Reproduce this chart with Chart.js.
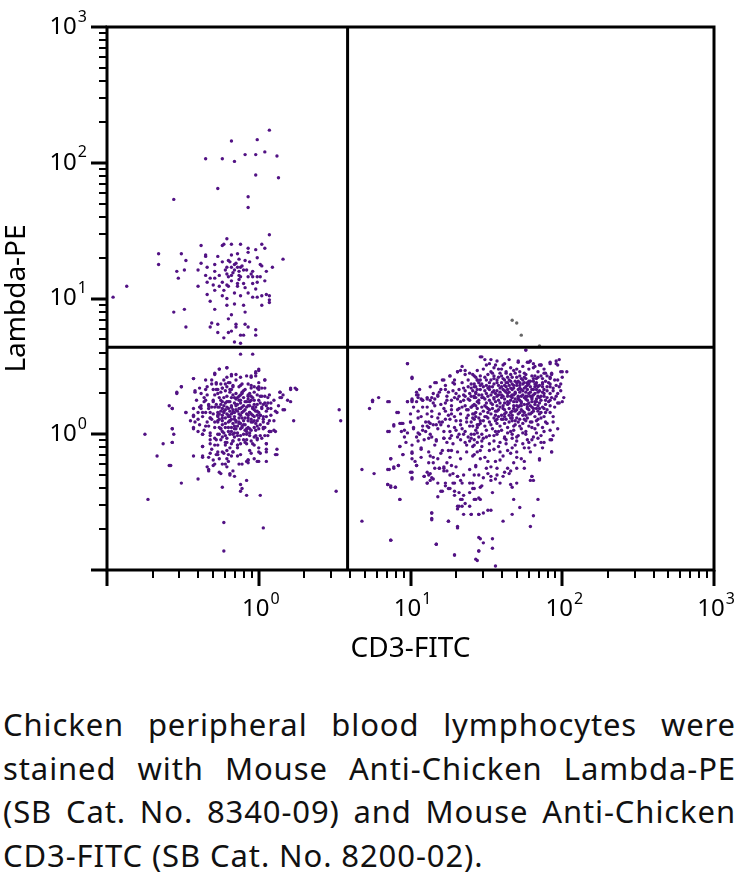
<!DOCTYPE html>
<html>
<head>
<meta charset="utf-8">
<script src="https://cdn.jsdelivr.net/npm/chart.js@4.4.1/dist/chart.umd.min.js"></script>
<style>
  html, body { margin: 0; padding: 0; background: #fff; }
  #wrap { position: relative; width: 743px; height: 883px; }
  #plot { position: absolute; left: 0; top: 0; width: 743px; height: 690px; }
  #caption { position: absolute; left: 3px; top: 703px; width: 733px;
    font-family: 'Noto Sans', sans-serif; font-size: 31px; line-height: 43.5px;
    letter-spacing: 0.9px; color: #111; }
  #caption div { text-align: justify; text-align-last: justify; white-space: nowrap; }
  #caption div.last { text-align: left; text-align-last: left; }
</style>
</head>
<body>
<div id="wrap">
  <div id="plot"><canvas id="grafico"></canvas></div>
  <div id="caption">
    <div>Chicken peripheral blood lymphocytes were</div>
    <div>stained with Mouse Anti-Chicken Lambda-PE</div>
    <div>(SB Cat. No. 8340-09) and Mouse Anti-Chicken</div>
    <div class="last">CD3-FITC (SB Cat. No. 8200-02).</div>
  </div>
</div>
<script>
// events as [log10 CD3-FITC, log10 Lambda-PE]
const lambdaPos = [
  [0.07,2.24],[-0.01,2.17],[-0.18,2.16],[-0.35,2.03],[-0.24,2.03],[-0.16,2.01],[-0.09,2.06],[-0.02,2.06],[0.04,2.08],[0.12,2.05],[-0.02,1.91],[0.13,1.89],[-0.27,1.81],[-0.56,1.73],[-0.07,1.75],[-0.07,1.67],
  [0.07,1.47],[-0.21,1.44],[-0.38,1.39],[-0.24,1.39],[-0.23,1.40],[-0.18,1.40],[-0.12,1.40],[-0.07,1.37],[-0.02,1.36],[0.02,1.40],[0.04,1.37],[-0.66,1.33],[-0.51,1.33],[-0.35,1.32],[-0.35,1.31],[-0.27,1.31],[-0.18,1.32],[-0.14,1.33],[-0.07,1.34],[-0.01,1.30],[0.16,1.29],[-0.48,1.28],[-0.38,1.26],[-0.29,1.25],[-0.24,1.27],[-0.20,1.28],[-0.16,1.25],[-0.13,1.29],[-0.12,1.23],[-0.09,1.28],[0.01,1.25],[0.02,1.24],[-0.66,1.25],[-0.54,1.20],[-0.49,1.21],[-0.40,1.21],[-0.34,1.23],[-0.29,1.20],[-0.21,1.23],[-0.18,1.23],[-0.16,1.21],[-0.14,1.23],[-0.13,1.20],[-0.10,1.21],[-0.05,1.18],[-0.04,1.20],[-0.01,1.16],[0.05,1.20],[0.09,1.23],
  [-0.53,1.15],[-0.35,1.17],[-0.32,1.15],[-0.29,1.15],[-0.26,1.17],[-0.21,1.18],[-0.20,1.16],[-0.18,1.17],[-0.13,1.17],[-0.12,1.16],[-0.07,1.16],[-0.04,1.16],[0.01,1.16],[0.04,1.13],[-0.34,1.12],[-0.30,1.10],[-0.24,1.12],[-0.21,1.10],[-0.18,1.13],[-0.14,1.11],[-0.10,1.11],[-0.04,1.11],[-0.01,1.12],[-0.40,1.09],[-0.26,1.09],[-0.20,1.09],[-0.14,1.09],[-0.09,1.08],[-0.02,1.07],[-0.87,1.09],[-0.29,1.06],[-0.23,1.06],[-0.16,1.04],[-0.12,1.02],[-0.07,1.04],[0.02,1.02],[0.05,1.03],[0.07,1.02],[-0.96,1.01],[-0.34,1.03],[-0.24,1.02],[-0.21,1.00],[-0.04,1.01],[-0.01,1.01],[0.07,0.99],[0.07,0.97],
  [-0.32,0.98],[-0.21,0.95],[-0.16,0.96],[-0.10,0.95],[0.02,0.95],[-0.56,0.90],[-0.49,0.92],[-0.29,0.92],[-0.09,0.90],[-0.18,0.88],[-0.20,0.85],[-0.31,0.82],[-0.48,0.79],[-0.32,0.79],[-0.27,0.81],[-0.15,0.81],[-0.15,0.79],[-0.09,0.81],[-0.07,0.79],[-0.02,0.77],[-0.18,0.76],[-0.20,0.75],[-0.27,0.75],[-0.12,0.73],[-0.10,0.73],[-0.02,0.73],[-0.23,0.71],[-0.16,0.68],[-0.12,0.67],
  [-0.15,1.26],[-0.11,1.24],[-0.17,1.19],[-0.08,1.21],[-0.19,1.27],[-0.13,1.14],[-0.06,1.27],[-0.22,1.21]
];

const doubleNeg = [
  [-0.12,0.59],[-0.04,0.59],[-0.21,0.49],[-0.26,0.48],[0.00,0.48],[-0.02,0.46],[-0.29,0.44],[-0.18,0.44],[-0.21,0.42],[-0.08,0.43],[-0.05,0.43],[-0.02,0.43],[-0.43,0.41],[-0.31,0.40],[0.04,0.40],[-0.15,0.40],[-0.19,0.38],[-0.51,0.35],[-0.28,0.37],[-0.25,0.37],[-0.34,0.35],[-0.24,0.34],[-0.21,0.35],[-0.17,0.35],[-0.12,0.36],[-0.07,0.37],[-0.03,0.35],[-0.01,0.34],[0.04,0.34],[-0.39,0.34],[-0.42,0.31],[-0.54,0.30],[-0.30,0.33],[-0.28,0.33],[-0.22,0.32],[-0.18,0.33],[-0.10,0.32],[-0.05,0.34],[0.00,0.33],[0.14,0.31],[0.21,0.34],[0.24,0.34],[0.16,0.29],[0.14,0.27],[0.21,0.24],
  [-0.34,0.29],[-0.29,0.29],[-0.36,0.27],[-0.26,0.27],[-0.16,0.27],[-0.14,0.27],[-0.07,0.28],[-0.05,0.28],[-0.01,0.29],[0.04,0.28],[0.06,0.27],[0.10,0.25],[-0.41,0.25],[-0.30,0.24],[-0.24,0.24],[-0.21,0.24],[-0.12,0.25],[-0.09,0.24],[-0.06,0.24],[-0.03,0.22],[0.03,0.22],[0.06,0.23],[-0.59,0.21],[-0.57,0.19],[-0.43,0.19],[-0.39,0.20],[-0.38,0.19],[-0.33,0.19],[-0.31,0.20],[-0.26,0.20],[-0.18,0.20],[-0.15,0.21],[-0.13,0.19],[-0.08,0.20],[-0.04,0.20],[0.02,0.20],[0.08,0.19],[0.16,0.18],
  [-0.48,0.16],[-0.40,0.16],[-0.35,0.16],[-0.27,0.16],[-0.23,0.17],[-0.19,0.17],[-0.17,0.18],[-0.10,0.17],[-0.06,0.16],[-0.01,0.17],[0.05,0.17],[0.11,0.17],[-0.43,0.13],[-0.37,0.13],[-0.32,0.12],[-0.27,0.13],[-0.24,0.14],[-0.20,0.13],[-0.16,0.13],[-0.12,0.14],[-0.07,0.14],[-0.03,0.13],[0.01,0.14],[0.05,0.13],[-0.42,0.09],[-0.39,0.07],[-0.34,0.09],[-0.27,0.09],[-0.24,0.10],[-0.19,0.10],[-0.15,0.10],[-0.13,0.08],[-0.10,0.10],[-0.05,0.09],[-0.01,0.10],[0.03,0.09],[0.23,0.10],
  [-0.43,0.04],[-0.36,0.03],[-0.25,0.04],[-0.22,0.05],[-0.18,0.05],[-0.15,0.04],[-0.11,0.06],[-0.08,0.04],[-0.03,0.05],[0.00,0.04],[0.04,0.05],[0.07,0.02],[0.11,0.02],[-0.75,0.00],[-0.57,0.04],[-0.56,0.00],[-0.37,0.00],[-0.32,0.01],[-0.26,0.00],[-0.23,0.01],[-0.19,0.00],[-0.16,0.01],[-0.14,-0.01],[-0.10,0.00],[-0.06,-0.01],[-0.02,-0.01],[0.04,-0.01],[-0.32,-0.04],[-0.28,-0.04],[-0.25,-0.04],[-0.21,-0.03],[-0.17,-0.05],[-0.13,-0.04],[-0.08,-0.04],[-0.05,-0.05],[-0.01,-0.04],[0.05,-0.07],
  [-0.63,-0.07],[-0.57,-0.06],[-0.37,-0.09],[-0.29,-0.08],[-0.22,-0.08],[-0.19,-0.10],[-0.14,-0.08],[-0.12,-0.07],[-0.06,-0.12],[0.00,-0.13],[0.05,-0.11],[-0.27,-0.13],[-0.24,-0.13],[-0.21,-0.12],[-0.17,-0.13],[-0.67,-0.16],[-0.37,-0.16],[-0.33,-0.17],[-0.27,-0.15],[-0.21,-0.18],[-0.20,-0.15],[-0.14,-0.16],[-0.07,-0.19],[-0.08,-0.20],[-0.01,-0.20],[0.05,-0.20],[0.12,-0.15],[-0.59,-0.23],[-0.33,-0.26],[-0.33,-0.27],[-0.30,-0.19],[-0.29,-0.22],[-0.22,-0.22],[-0.21,-0.24],[-0.26,-0.28],[-0.19,-0.30],[-0.16,-0.31],[-0.40,-0.33],[-0.51,-0.36],[-0.08,-0.34],[-0.12,-0.37],[-0.24,-0.39],[-0.11,-0.40],[-0.12,-0.42],[-0.08,-0.45],[0.01,-0.45],[-0.73,-0.48],[-0.23,-0.65],[0.03,-0.69],[-0.23,-0.86],
  [-0.21,0.49],[-0.26,0.48],[-0.29,0.45],[-0.18,0.43],[0.00,0.47],[-0.02,0.45],[-0.12,0.42],[-0.05,0.42],[-0.43,0.41],[0.04,0.40],[-0.23,0.40],[-0.28,0.38],[-0.31,0.37],[-0.22,0.37],[-0.17,0.36],[-0.11,0.37],[-0.05,0.36],[0.00,0.35],[0.02,0.34],[-0.51,0.35],[-0.54,0.31],[-0.42,0.32],[-0.35,0.33],[-0.38,0.30],[-0.27,0.33],[-0.24,0.34],[-0.19,0.33],[-0.15,0.30],[-0.11,0.30],[-0.07,0.29],[-0.04,0.27],[0.01,0.28],[0.07,0.29],[0.14,0.31],[0.21,0.33],[0.25,0.33],[0.15,0.27],
  [-0.35,0.25],[-0.30,0.25],[-0.25,0.25],[-0.20,0.24],[-0.13,0.25],[-0.06,0.24],[0.00,0.25],[0.04,0.23],[0.08,0.23],[0.13,0.21],[0.19,0.25],[-0.38,0.21],[-0.33,0.21],[-0.29,0.20],[-0.24,0.19],[-0.18,0.20],[-0.15,0.22],[-0.12,0.19],[-0.07,0.21],[-0.02,0.20],[0.02,0.19],[0.06,0.19],[0.17,0.18],[-0.48,0.16],[-0.43,0.14],[-0.37,0.16],[-0.32,0.16],[-0.26,0.15],[-0.21,0.15],[-0.17,0.16],[-0.11,0.16],[-0.05,0.15],[0.01,0.14],[0.08,0.14],[0.12,0.16],[-0.57,0.19],
  [-0.45,0.10],[-0.40,0.11],[-0.32,0.12],[-0.27,0.10],[-0.22,0.12],[-0.18,0.11],[-0.13,0.09],[-0.07,0.12],[-0.03,0.10],[0.03,0.11],[0.07,0.10],[-0.43,0.05],[-0.35,0.06],[-0.29,0.05],[-0.25,0.04],[-0.20,0.05],[-0.16,0.04],[-0.11,0.05],[-0.06,0.04],[-0.01,0.06],[0.03,0.04],[0.10,0.03],[-0.57,0.04],[-0.37,0.00],[-0.32,-0.01],[-0.27,0.00],[-0.22,-0.01],[-0.17,0.00],[-0.12,-0.01],[-0.08,0.00],[-0.03,-0.02],[0.01,-0.01],[0.06,-0.01],[0.07,0.02],
  [-0.57,-0.06],[-0.37,-0.09],[-0.32,-0.07],[-0.27,-0.08],[-0.22,-0.06],[-0.18,-0.07],[-0.14,-0.08],[-0.09,-0.06],[-0.04,-0.07],[0.00,-0.10],[0.05,-0.07],[0.12,-0.11],[-0.43,-0.16],[-0.37,-0.17],[-0.32,-0.14],[-0.28,-0.15],[-0.23,-0.14],[-0.17,-0.13],[-0.12,-0.15],[-0.07,-0.19],[-0.07,-0.21],[-0.03,-0.18],[0.01,-0.14],[0.05,-0.13],[0.11,-0.15],[-0.34,-0.24],[-0.30,-0.23],[-0.24,-0.22],[-0.20,-0.20],[-0.17,-0.27],[-0.13,-0.22],[-0.25,-0.29],[-0.19,-0.29],[0.00,-0.20],[-0.58,-0.23],
  [-0.28,0.22],[-0.25,0.17],[-0.23,0.27],[-0.22,0.08],[-0.20,0.14],[-0.19,0.31],[-0.18,0.02],[-0.16,0.23],[-0.15,0.09],[-0.14,0.17],[-0.13,0.28],[-0.12,0.04],[-0.11,0.12],[-0.10,0.21],[-0.09,0.07],[-0.08,0.15],[-0.07,0.26],[-0.06,0.01],[-0.05,0.11],[-0.04,0.19],[-0.03,0.31],[-0.02,0.08],[-0.01,0.14],[0.01,0.23],[0.02,-0.03],[-0.26,0.05],[-0.24,-0.02],[-0.21,0.20],[-0.17,-0.05],[-0.14,-0.10],[-0.10,-0.04],[-0.09,0.33],[-0.27,0.30],[-0.31,0.11],[-0.33,0.22],[-0.20,0.38],[-0.13,0.35],[-0.03,-0.08],[0.03,0.13],[0.06,0.08],[-0.16,0.06],[-0.19,0.10],[-0.08,0.02],[-0.24,0.12],
  [-0.36,0.24],[-0.33,0.06],[-0.30,0.15],[-0.29,-0.03],[-0.27,0.20],[-0.26,0.11],[-0.25,0.31],[-0.24,0.02],[-0.23,0.16],[-0.22,0.23],[-0.21,-0.06],[-0.20,0.09],[-0.19,0.24],[-0.18,0.15],[-0.17,0.29],[-0.16,-0.02],[-0.15,0.18],[-0.14,0.06],[-0.13,0.12],[-0.12,0.23],[-0.11,0.31],[-0.10,0.07],[-0.09,0.18],[-0.08,-0.07],[-0.07,0.10],[-0.06,0.21],[-0.05,0.03],[-0.04,0.14],[-0.03,0.25],[-0.02,0.17],[-0.01,-0.03],[0.00,0.12],[0.02,0.28],[0.03,0.05],[0.05,0.21],[0.08,0.02],[-0.31,-0.11],[-0.26,-0.18],[-0.18,-0.16],[-0.11,-0.22],[-0.05,-0.14],[-0.35,0.40],[-0.15,0.44],[0.00,0.38],[-0.40,0.02],[0.10,0.10],
  [-0.27,0.14],[-0.25,0.22],[-0.24,0.07],[-0.22,0.18],[-0.21,0.28],[-0.20,0.02],[-0.19,0.13],[-0.18,0.21],[-0.17,0.08],[-0.16,0.16],[-0.15,0.26],[-0.14,0.01],[-0.13,0.15],[-0.12,0.08],[-0.11,0.20],[-0.10,0.27],[-0.09,0.12],[-0.08,0.24],[-0.07,0.05],[-0.06,0.16],[-0.05,0.25],[-0.04,0.09],[-0.03,0.18],[-0.02,0.03],[-0.01,0.22],[0.00,0.16],[0.01,0.07],[-0.29,0.09],[-0.23,0.21],[-0.18,0.27],[-0.12,0.29],[-0.06,0.30],[-0.20,0.19],[-0.14,0.22],[-0.09,0.03],[-0.16,0.11]
];

const cd3Pos = [
  [0.53,0.18],[0.54,0.10],[0.51,-0.42],
  [0.98,0.52],[1.01,0.41],[0.75,0.25],[0.75,0.24],[0.79,0.27],[0.73,0.19],[0.86,0.24],[0.92,0.16],[0.98,0.24],[1.01,0.24],[1.01,0.26],[1.04,0.31],[1.05,0.29],[1.07,0.26],[1.04,0.24],[1.08,0.25],[1.11,0.27],[1.13,0.25],[1.16,0.26],[1.18,0.28],[1.17,0.38],[1.22,0.40],[1.23,0.33],[1.26,0.43],[1.29,0.40],[1.31,0.46],[1.33,0.47],
  [0.89,0.07],[0.93,0.08],[0.95,0.08],[1.00,0.09],[0.86,0.02],[0.94,0.02],[0.98,0.01],[1.02,0.05],[1.04,-0.02],[1.06,0.00],[1.08,0.03],[1.11,0.06],[1.13,0.08],[1.17,0.07],[1.19,0.09],[0.93,-0.09],[0.97,-0.06],[1.01,-0.08],[1.05,-0.05],[1.07,-0.11],[1.12,-0.03],[1.14,-0.02],[1.17,-0.04],[1.22,-0.03],
  [0.87,-0.18],[0.95,-0.15],[1.01,-0.14],[1.07,-0.17],[1.13,-0.16],[1.15,-0.21],[1.18,-0.18],[1.24,-0.21],[1.26,-0.17],[0.68,-0.26],[0.76,-0.29],[0.86,-0.26],[0.89,-0.25],[0.92,-0.23],[1.00,-0.28],[1.01,-0.32],[1.04,-0.23],[1.09,-0.31],[1.11,-0.28],[1.12,-0.30],[1.14,-0.32],[1.19,-0.25],[1.22,-0.25],[1.24,-0.27],[1.27,-0.23],[1.30,-0.24],
  [0.85,-0.37],[0.87,-0.39],[0.90,-0.39],[0.93,-0.48],[1.11,-0.36],[1.13,-0.34],[1.20,-0.42],[1.23,-0.38],[1.25,-0.40],[1.28,-0.36],[1.31,-0.31],[1.33,-0.34],[1.29,-0.45],[1.32,-0.43],[1.34,-0.48],[1.31,-0.53],[1.36,-0.51],[1.14,-0.58],[1.14,-0.62],[1.25,-0.64],[1.31,-0.69],[0.68,-0.64],[0.87,-0.78],[1.17,-0.81],[1.29,-0.89],
  [0.98,0.52],[1.01,0.42],[1.16,0.38],[1.21,0.40],[1.26,0.43],[1.31,0.46],[1.34,0.50],[1.36,0.47],[1.39,0.45],[1.42,0.43],[1.44,0.40],[1.23,0.36],[1.29,0.37],[1.34,0.38],[1.40,0.37],[1.42,0.35],[0.85,0.24],[0.91,0.16],[0.98,0.24],[1.01,0.25],[1.04,0.29],[1.05,0.27],[1.08,0.25],[1.11,0.26],[1.14,0.27],[1.18,0.29],[1.19,0.31],[1.25,0.31],[1.28,0.32],[1.32,0.33],[1.36,0.32],[1.39,0.30],[1.43,0.31],
  [1.02,0.20],[1.05,0.17],[1.11,0.20],[1.15,0.23],[1.20,0.22],[1.23,0.23],[1.27,0.25],[1.31,0.26],[1.35,0.25],[1.38,0.26],[1.42,0.27],[1.45,0.25],[1.07,0.13],[1.11,0.15],[1.14,0.17],[1.19,0.15],[1.23,0.17],[1.27,0.18],[1.32,0.19],[1.36,0.21],[1.40,0.20],[1.43,0.21],[0.89,0.06],[0.94,0.08],[1.00,0.09],[0.85,0.02],[0.96,0.03],[1.02,0.04],[1.08,0.06],[1.12,0.09],[1.15,0.07],[1.21,0.09],[1.26,0.11],[1.29,0.13],[1.33,0.15],[1.38,0.14],[1.42,0.15],[1.45,0.12],
  [1.05,0.01],[1.10,0.02],[1.13,0.00],[1.18,0.04],[1.22,0.02],[1.25,0.06],[1.29,0.05],[1.33,0.07],[1.37,0.09],[1.41,0.06],[1.44,0.07],[1.27,-0.01],[1.32,0.00],[1.36,0.02],[1.40,0.00],[1.44,0.01],[1.26,-0.03],[1.38,-0.02],
  [1.46,0.57],[1.49,0.55],[1.52,0.52],[1.56,0.51],[1.61,0.51],[1.66,0.49],[1.71,0.53],[1.76,0.62],[1.78,0.53],[1.81,0.52],[1.86,0.51],[1.92,0.53],[1.96,0.54],[1.97,0.51],[2.00,0.46],[2.03,0.46],[1.44,0.47],[1.48,0.48],[1.53,0.46],[1.58,0.48],[1.63,0.46],[1.68,0.47],[1.72,0.46],[1.78,0.48],[1.84,0.46],[1.88,0.45],[1.93,0.45],
  [1.43,0.42],[1.46,0.43],[1.50,0.40],[1.55,0.41],[1.60,0.43],[1.65,0.40],[1.70,0.42],[1.75,0.42],[1.80,0.43],[1.84,0.42],[1.90,0.43],[1.95,0.40],[2.00,0.42],[1.42,0.37],[1.47,0.37],[1.52,0.35],[1.57,0.38],[1.62,0.36],[1.67,0.37],[1.72,0.36],[1.77,0.38],[1.82,0.37],[1.87,0.38],[1.92,0.35],[1.96,0.36],
  [1.41,0.32],[1.46,0.33],[1.50,0.30],[1.55,0.32],[1.59,0.31],[1.64,0.33],[1.69,0.30],[1.74,0.32],[1.79,0.31],[1.83,0.33],[1.87,0.31],[1.92,0.30],[1.99,0.32],[1.43,0.27],[1.47,0.27],[1.52,0.25],[1.57,0.28],[1.62,0.26],[1.67,0.27],[1.71,0.26],[1.76,0.28],[1.80,0.26],[1.85,0.27],[1.89,0.25],[1.95,0.26],[2.00,0.24],
  [1.41,0.21],[1.45,0.23],[1.50,0.20],[1.54,0.22],[1.59,0.20],[1.64,0.22],[1.68,0.21],[1.73,0.23],[1.77,0.20],[1.82,0.22],[1.87,0.20],[1.92,0.21],[1.97,0.23],[1.43,0.16],[1.48,0.17],[1.53,0.15],[1.57,0.17],[1.62,0.15],[1.67,0.17],[1.72,0.16],[1.76,0.14],[1.81,0.17],[1.85,0.15],[1.89,0.16],[1.94,0.13],
  [1.42,0.11],[1.46,0.10],[1.51,0.12],[1.56,0.10],[1.61,0.11],[1.66,0.12],[1.71,0.09],[1.75,0.11],[1.80,0.09],[1.84,0.11],[1.89,0.09],[1.44,0.05],[1.49,0.06],[1.54,0.04],[1.59,0.06],[1.64,0.05],[1.68,0.06],[1.73,0.04],[1.78,0.06],[1.82,0.04],[1.87,0.05],[1.92,0.03],[1.97,0.04],
  [1.42,0.00],[1.47,0.00],[1.52,-0.01],[1.57,0.00],[1.62,-0.02],[1.67,0.00],[1.71,-0.01],[1.76,0.00],[1.81,-0.02],[1.86,-0.01],[1.94,-0.01],
  [0.93,-0.09],[1.01,-0.13],[0.95,-0.15],[0.87,-0.18],[1.01,-0.18],[1.07,-0.10],[1.12,-0.13],[1.15,-0.17],[1.21,-0.12],[1.24,-0.06],[0.85,-0.26],[0.89,-0.24],[0.92,-0.23],[1.01,-0.28],[1.04,-0.23],[1.01,-0.33],[1.12,-0.21],[1.16,-0.25],[1.19,-0.25],[1.22,-0.24],[1.09,-0.31],[1.13,-0.29],[1.15,-0.33],[1.22,-0.27],[1.26,-0.30],[1.28,-0.29],[1.31,-0.31],[1.35,-0.30],[1.39,-0.26],[1.43,-0.24],
  [0.85,-0.37],[0.87,-0.38],[0.90,-0.39],[1.11,-0.36],[1.23,-0.36],[1.26,-0.40],[1.29,-0.36],[1.34,-0.36],[1.39,-0.36],[1.41,-0.40],[1.46,-0.39],[0.93,-0.48],[1.18,-0.46],[1.21,-0.42],[1.29,-0.42],[1.33,-0.48],[1.35,-0.45],[1.39,-0.43],[1.43,-0.48],[1.46,-0.48],[1.32,-0.53],[1.34,-0.53],[1.39,-0.53],[1.31,-0.55],[1.14,-0.58],[1.14,-0.63],[1.25,-0.64],[1.35,-0.59],[1.40,-0.59],[1.45,-0.59],[1.31,-0.68],[0.87,-0.78],[1.17,-0.81],[1.45,-0.76],[1.29,-0.89],[1.45,-0.86],[1.44,-0.93],
  [1.22,-0.03],[1.28,-0.07],[1.33,-0.04],[1.37,-0.08],[1.40,-0.03],[1.44,-0.06],[1.25,-0.12],[1.31,-0.13],[1.37,-0.13],[1.42,-0.15],[1.46,-0.12],[1.17,-0.05],
  [1.42,-0.04],[1.45,-0.02],[1.50,-0.02],[1.55,-0.05],[1.59,-0.06],[1.62,-0.03],[1.67,-0.03],[1.70,-0.05],[1.77,-0.04],[1.80,-0.04],[1.82,-0.08],[1.88,-0.06],[1.93,-0.04],[1.42,-0.08],[1.47,-0.09],[1.52,-0.12],[1.55,-0.11],[1.59,-0.13],[1.64,-0.12],[1.67,-0.10],[1.70,-0.13],[1.75,-0.10],[1.78,-0.10],[1.87,-0.10],[1.93,-0.13],[1.44,-0.13],
  [1.41,-0.16],[1.46,-0.18],[1.51,-0.20],[1.56,-0.20],[1.61,-0.16],[1.66,-0.14],[1.68,-0.21],[1.73,-0.18],[1.75,-0.20],[1.85,-0.18],[1.43,-0.23],[1.50,-0.25],[1.53,-0.24],[1.57,-0.25],[1.64,-0.25],[1.66,-0.27],[1.70,-0.25],[1.75,-0.25],[1.42,-0.30],[1.45,-0.30],[1.48,-0.32],[1.53,-0.31],[1.57,-0.30],[1.61,-0.31],[1.65,-0.29],[1.80,-0.31],
  [1.41,-0.36],[1.47,-0.38],[1.53,-0.34],[1.56,-0.33],[1.59,-0.36],[1.66,-0.37],[1.67,-0.39],[1.70,-0.36],[1.79,-0.34],[1.42,-0.40],[1.54,-0.43],[1.42,-0.48],[1.45,-0.47],[1.68,-0.48],[1.72,-0.54],[1.84,-0.48],[1.40,-0.59],[1.45,-0.59],[1.48,-0.58],[1.51,-0.56],[1.53,-0.56],[1.61,-0.64],[1.67,-0.59],[1.81,-0.60],[1.79,-0.68],[1.46,-0.77],[1.48,-0.80],[1.54,-0.77],[1.45,-0.86],[1.54,-0.84],[1.43,-0.92],[1.56,-0.97],
  [1.98,0.55],[1.96,0.52],[1.99,0.46],[1.97,0.40],[1.99,0.37],[2.01,0.27],[1.98,0.23],[1.92,0.25],[1.94,0.32],[1.90,0.35],[1.92,0.42],[1.89,0.45],[1.92,0.52],[1.86,0.51],[1.94,0.09],[1.88,0.13],[1.92,-0.04],[1.86,-0.06],[1.93,-0.13],[1.85,-0.19],[1.80,-0.31],[1.81,-0.34],[1.47,0.57],[1.50,0.51],[1.53,0.55],[1.57,0.54],[1.62,0.52],[1.71,0.54],[1.77,0.53],[1.79,0.54],[1.81,0.49],[1.85,0.51],[1.76,0.62],
  [1.44,0.40],[1.48,0.35],[1.51,0.44],[1.53,0.29],[1.55,0.37],[1.56,0.24],[1.58,0.42],[1.59,0.34],[1.60,0.27],[1.61,0.19],[1.62,0.40],[1.63,0.31],[1.64,0.24],[1.65,0.14],[1.66,0.44],[1.66,0.34],[1.67,0.29],[1.68,0.19],[1.69,0.39],[1.70,0.24],[1.70,0.12],[1.71,0.33],[1.72,0.43],[1.73,0.28],[1.73,0.18],[1.74,0.37],[1.75,0.22],[1.76,0.31],[1.76,0.41],[1.77,0.25],[1.78,0.15],[1.79,0.35],[1.79,0.28],[1.80,0.20],[1.81,0.39],[1.82,0.30],[1.83,0.24],[1.84,0.35],[1.85,0.19],[1.86,0.28],[1.87,0.41],[1.88,0.33],[1.89,0.22],[1.91,0.38],[1.93,0.27],
  [1.50,0.23],[1.52,0.18],[1.54,0.31],[1.57,0.21],[1.58,0.13],[1.60,0.38],[1.62,0.08],[1.63,0.45],[1.65,0.36],[1.67,0.10],[1.69,0.26],[1.71,0.20],[1.72,0.38],[1.74,0.14],[1.75,0.45],[1.77,0.33],[1.78,0.39],[1.80,0.24],[1.82,0.13],[1.83,0.41],[1.85,0.32],[1.47,0.20],[1.49,0.13],[1.45,0.29],[1.42,0.22],[1.46,0.08],[1.53,0.07],[1.56,0.02],[1.60,0.03],[1.64,0.01],[1.68,0.03],[1.72,0.06],[1.76,0.02],[1.80,0.05],[1.84,0.07],[1.90,0.18],[1.95,0.20],[1.97,0.30],[1.93,0.44],[1.88,0.48],[1.70,0.48],[1.60,0.48],[1.55,0.49],[1.65,0.55],[1.74,0.50],[1.82,0.50],
  [1.20,0.33],[1.24,0.28],[1.27,0.21],[1.30,0.30],[1.33,0.24],[1.35,0.34],[1.37,0.18],[1.38,0.40],[1.40,0.28],[1.41,0.12],[1.43,0.35],[1.25,0.14],[1.30,0.10],[1.34,0.04],[1.39,0.06],[1.22,0.19],[1.28,0.38],[1.36,0.44],[1.18,0.12],[1.15,0.30],[1.10,0.09],[1.26,0.02],[1.31,-0.02],[1.36,-0.06],[1.41,-0.09],[1.47,-0.05],[1.52,-0.07],[1.58,-0.09],[1.63,-0.07],[1.69,-0.08],[1.74,-0.07],[1.79,-0.13],[1.84,-0.03],[1.49,-0.17],[1.59,-0.19],[1.70,-0.17],[1.62,-0.28],[1.51,-0.29],
  [1.41,0.44],[1.45,0.38],[1.49,0.42],[1.52,0.38],[1.54,0.45],[1.57,0.40],[1.59,0.45],[1.61,0.41],[1.64,0.38],[1.67,0.42],[1.69,0.45],[1.71,0.39],[1.73,0.41],[1.76,0.44],[1.78,0.37],[1.81,0.41],[1.83,0.38],[1.86,0.43],[1.89,0.39],[1.92,0.41],
  [1.40,0.34],[1.43,0.30],[1.46,0.36],[1.49,0.32],[1.51,0.34],[1.54,0.35],[1.56,0.30],[1.58,0.36],[1.61,0.33],[1.63,0.35],[1.65,0.31],[1.68,0.34],[1.70,0.36],[1.72,0.31],[1.75,0.34],[1.77,0.36],[1.80,0.33],[1.82,0.35],[1.84,0.31],[1.87,0.35],[1.90,0.32],[1.94,0.34],[1.98,0.35],
  [1.39,0.25],[1.42,0.28],[1.44,0.24],[1.47,0.29],[1.49,0.26],[1.51,0.28],[1.53,0.23],[1.55,0.27],[1.58,0.25],[1.60,0.29],[1.62,0.23],[1.64,0.28],[1.66,0.25],[1.68,0.29],[1.71,0.28],[1.73,0.24],[1.75,0.27],[1.78,0.23],[1.80,0.28],[1.83,0.26],[1.85,0.23],[1.88,0.28],[1.91,0.24],[1.96,0.28],
  [1.38,0.18],[1.41,0.15],[1.44,0.19],[1.46,0.15],[1.49,0.21],[1.51,0.16],[1.54,0.19],[1.56,0.14],[1.58,0.18],[1.61,0.21],[1.63,0.16],[1.65,0.19],[1.67,0.14],[1.70,0.18],[1.72,0.21],[1.74,0.17],[1.77,0.19],[1.79,0.15],[1.81,0.19],[1.84,0.21],[1.86,0.16],[1.88,0.19],[1.92,0.16],
  [1.37,0.12],[1.40,0.09],[1.43,0.13],[1.45,0.07],[1.48,0.10],[1.50,0.13],[1.52,0.09],[1.55,0.12],[1.57,0.08],[1.60,0.11],[1.62,0.13],[1.65,0.09],[1.67,0.12],[1.69,0.07],[1.72,0.11],[1.74,0.08],[1.77,0.12],[1.79,0.09],[1.83,0.10],[1.86,0.12],[1.90,0.08],
  [1.30,0.03],[1.35,0.00],[1.39,-0.05],[1.43,0.03],[1.48,-0.03],[1.50,0.03],[1.55,-0.01],[1.58,0.02],[1.63,-0.04],[1.66,0.02],[1.70,-0.02],[1.74,0.01],[1.78,-0.06],[1.83,0.01],[1.88,0.02],
  [1.05,0.12],[1.08,0.20],[1.12,0.05],[1.14,0.13],[1.16,0.21],[1.20,0.07],[1.23,0.11],[1.24,0.25],[1.27,0.15],[1.29,0.27],[1.31,0.18],[1.33,0.10],[1.35,0.29],[1.09,-0.04],[1.16,-0.08],[1.20,-0.14],[1.06,0.33],[1.13,0.35],[1.00,0.15],[0.96,-0.02],[1.03,-0.20],[1.18,-0.36],[1.27,-0.12],[1.33,-0.18],
  [1.52,0.33],[1.55,0.26],[1.57,0.32],[1.59,0.23],[1.60,0.35],[1.61,0.28],[1.62,0.18],[1.63,0.38],[1.64,0.30],[1.65,0.23],[1.66,0.16],[1.66,0.39],[1.67,0.33],[1.68,0.24],[1.69,0.17],[1.69,0.31],[1.70,0.38],[1.71,0.27],[1.71,0.15],[1.72,0.34],[1.73,0.21],[1.74,0.29],[1.74,0.40],[1.75,0.16],[1.76,0.26],[1.76,0.35],[1.77,0.22],[1.78,0.30],[1.78,0.18],[1.79,0.39],[1.80,0.27],[1.80,0.16],[1.81,0.33],[1.82,0.24],[1.83,0.36],[1.84,0.28],[1.84,0.17],[1.86,0.25],[1.87,0.37],[1.88,0.30],
  [1.53,0.40],[1.56,0.17],[1.58,0.29],[1.60,0.14],[1.62,0.32],[1.64,0.42],[1.66,0.28],[1.68,0.36],[1.70,0.21],[1.72,0.25],[1.73,0.33],[1.75,0.38],[1.77,0.28],[1.79,0.21],[1.81,0.29],[1.83,0.19],[1.85,0.36],[1.48,0.27],[1.50,0.36],[1.51,0.19],[1.55,0.43],[1.57,0.11],[1.63,0.11],[1.69,0.10],[1.76,0.10],[1.82,0.43],[1.90,0.27],[1.92,0.37],[1.46,0.40],[1.44,0.33],[1.40,0.20],[1.36,0.28],[1.38,0.35],[1.34,0.20],[1.32,0.28]
];

// a few grey events sitting just above the Lambda gate
const greyEvents = [[1.67,0.84],[1.70,0.82],[1.73,0.73],[1.85,0.65]];

// quadrant gates
const gateCd3 = 3.85;
const gateLambda = 4.37;

// axis range and labelled decades
const axisMin = 0.1;
const axisMax = 1000;
const xTickExps = [0, 1, 2, 3];
const yTickExps = [0, 1, 2, 3];
const xTitle = "CD3-FITC";
const yTitle = "Lambda-PE";

const FONT = "'Noto Sans', sans-serif";
const DOT = "rgb(82, 18, 132)";

const toPts = arr => arr.map(([lx, ly]) => ({ x: 10 ** lx, y: 10 ** ly }));

function drawPow(ctx, exp, x, y, align) {
  ctx.font = "24px " + FONT;
  const wBase = ctx.measureText("10").width;
  ctx.font = "16px " + FONT;
  const wExp = ctx.measureText(String(exp)).width;
  const total = wBase + wExp + 1;
  const start = align === "right" ? x - total : x - total / 2;
  ctx.fillStyle = "#000";
  ctx.textAlign = "left";
  ctx.textBaseline = "middle";
  ctx.font = "24px " + FONT;
  ctx.fillText("10", start, y);
  ctx.font = "16px " + FONT;
  ctx.fillText(String(exp), start + wBase + 1, y - 10);
}

const flowAxes = {
  id: "flowAxes",
  afterDatasetsDraw(chart) {
    const { ctx, chartArea: a, scales: { x, y } } = chart;
    ctx.save();
    ctx.strokeStyle = "#000";

    // gates
    ctx.lineWidth = 3;
    const gx = x.getPixelForValue(gateCd3);
    const gy = y.getPixelForValue(gateLambda);
    ctx.beginPath();
    ctx.moveTo(gx, a.top); ctx.lineTo(gx, a.bottom);
    ctx.moveTo(a.left, gy); ctx.lineTo(a.right, gy);
    ctx.stroke();

    // frame
    ctx.strokeRect(a.left, a.top, a.right - a.left, a.bottom - a.top);

    // ticks
    for (let d = -1; d <= 3; d++) {
      for (let k = 1; k <= 9; k++) {
        if (d === 3 && k > 1) break;
        const v = k * 10 ** d;
        const major = k === 1;
        ctx.lineWidth = major ? 3 : 2;
        const px = Math.round(x.getPixelForValue(v));
        const py = Math.round(y.getPixelForValue(v));
        ctx.beginPath();
        ctx.moveTo(px, a.bottom); ctx.lineTo(px, a.bottom + (major ? 16 : 8));
        ctx.moveTo(a.left, py); ctx.lineTo(a.left - (major ? 16 : 8), py);
        ctx.stroke();
      }
    }

    // tick labels
    xTickExps.forEach(e => drawPow(ctx, e, x.getPixelForValue(10 ** e) + 2, a.bottom + 39, "center"));
    yTickExps.forEach(e => drawPow(ctx, e, a.left - 20, y.getPixelForValue(10 ** e), "right"));

    // titles
    ctx.fillStyle = "#000";
    ctx.font = "28px " + FONT;
    ctx.textAlign = "center";
    ctx.textBaseline = "middle";
    ctx.fillText(xTitle, x.getPixelForValue(10), a.bottom + 79);
    ctx.translate(17, (a.top + a.bottom) / 2);
    ctx.rotate(-Math.PI / 2);
    ctx.fillText(yTitle, 0, 0);
    ctx.restore();
  }
};

const ctx = document.getElementById("grafico").getContext("2d");
const set = (data, color) => ({
  data: toPts(data),
  backgroundColor: color,
  borderWidth: 0,
  pointRadius: 1.7,
  pointHoverRadius: 1.7
});

new Chart(ctx, {
  type: "scatter",
  data: {
    datasets: [
      set(lambdaPos, DOT),
      set(doubleNeg, DOT),
      set(cd3Pos, DOT),
      set(greyEvents, "#666")
    ]
  },
  options: {
    responsive: true,
    maintainAspectRatio: false,
    animation: false,
    devicePixelRatio: 1,
    layout: { padding: { left: 107, right: 29, top: 27, bottom: 120 } },
    scales: {
      x: { type: "logarithmic", min: axisMin, max: axisMax, display: false },
      y: { type: "logarithmic", min: axisMin, max: axisMax, display: false }
    },
    plugins: { legend: { display: false }, tooltip: { enabled: false } }
  },
  plugins: [flowAxes]
});
</script>
</body>
</html>
